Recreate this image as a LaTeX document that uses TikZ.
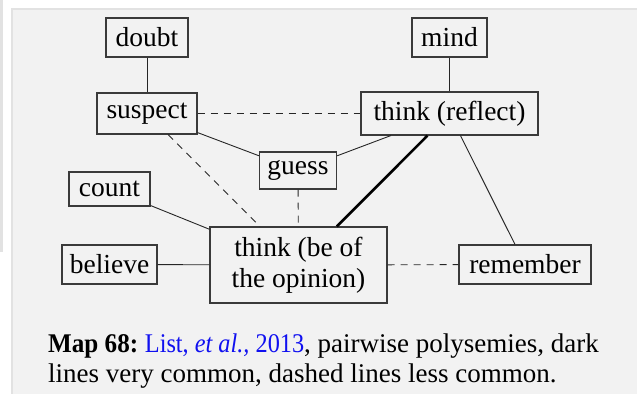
\documentclass[tikz,border=0pt]{standalone}
\usepackage{fontspec}
\setmainfont{Liberation Serif}
\usepackage{xcolor}
\usepackage{graphicx}
\definecolor{panel}{HTML}{F2F2F2}
\definecolor{paneledge}{HTML}{E2E2E2}
\definecolor{boxedge}{HTML}{3A3A3A}
\definecolor{linkblue}{HTML}{1010F0}
\begin{document}
\begin{tikzpicture}[x=1pt,y=-1pt,
  every node/.style={font=\fontsize{27.5}{31}\selectfont},
  wbox/.style={draw=boxedge,line width=1.1pt,inner sep=0pt,anchor=center,align=center},
  captext/.style={anchor=base west,inner sep=0pt,font=\fontsize{27}{30}\selectfont},
  solidlink/.style={draw=black!85,line width=0.9pt},
  dashlink/.style={draw=black!85,line width=0.9pt,dash pattern=on 7pt off 6pt},
  thicklink/.style={draw=black,line width=2.6pt}]
\useasboundingbox (0,0) rectangle (637,394);
\fill[white] (0,0) rectangle (637,394);
\fill[paneledge] (0,0) rectangle (3,252);
\fill[paneledge] (11,8) rectangle (637,394);
\fill[panel] (13,10) rectangle (637,394);
% nodes
\node[wbox,minimum width=82pt,minimum height=39pt] (doubt) at (147,37.5) {doubt};
\node[wbox,minimum width=100pt,minimum height=41pt] (suspect) at (147,113.5) {suspect};
\node[wbox,minimum width=75pt,minimum height=39pt] (mind) at (449.5,37.5) {mind};
\node[wbox,minimum width=177pt,minimum height=43pt] (reflect) at (449.5,113.5) {think (reflect)};
\node[wbox,minimum width=77pt,minimum height=37pt] (guess) at (298,170.5) {guess};
\node[wbox,minimum width=81pt,minimum height=34pt] (count) at (109.5,189) {count};
\node[wbox,minimum width=95pt,minimum height=39pt] (believe) at (109.5,264.5) {believe};
\node[wbox,minimum width=177pt,minimum height=76pt] (opinion) at (298.5,265) {think (be of\\the opinion)};
\node[wbox,minimum width=132pt,minimum height=39pt] (remember) at (525,264.5) {remember};
% connectors
\draw[solidlink] (doubt) -- (suspect);
\draw[solidlink] (mind) -- (reflect);
\draw[dashlink] (suspect) -- (reflect);
\draw[solidlink] (suspect) -- (guess);
\draw[solidlink] (guess) -- (reflect);
\draw[dashlink] (suspect) -- (opinion);
\draw[dashlink] (guess) -- (opinion);
\draw[solidlink] (count) -- (opinion);
\draw[solidlink] (believe) -- (opinion);
\draw[thicklink] (reflect) -- (opinion);
\draw[solidlink] (reflect) -- (remember);
\draw[dashlink] (opinion) -- (remember);
% caption
\node[captext] (cap1) at (48,352) {\scalebox{0.93}[1]{\textbf{Map 68:}} \scalebox{0.9}[1]{\textcolor{linkblue}{List, \textit{et al.,} 2013}}, pairwise polysemies, dark};
\node[captext] (cap2) at (48,382) {lines very common, dashed lines less common.};
\end{tikzpicture}
\end{document}
